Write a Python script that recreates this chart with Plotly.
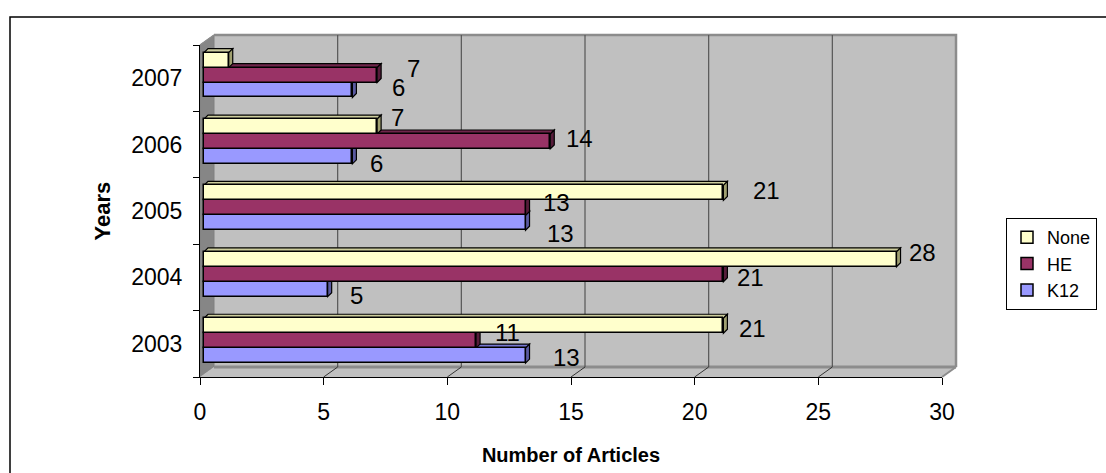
import plotly.graph_objects as go

# ---------------- data ----------------
years = ["2003", "2004", "2005", "2006", "2007"]
none_vals = [21, 28, 21, 7, 1]
he_vals = [11, 21, 13, 14, 7]
k12_vals = [13, 5, 13, 6, 6]
none_label_shown = [True, True, True, True, False]
x_ticks = [0, 5, 10, 15, 20, 25, 30]

# ---------------- geometry / style ----------------
FIG_W, FIG_H = 1106, 473
L, R, T, B = 200, 942, 45, 377
PW, PH = R - L, B - T
X_MAX = 30
N = len(years)
PX_PER_X = PW / X_MAX
PX_PER_Y = PH / N
WALL_DX, WALL_DY = 14, 10          # depth of walls (px)
BAR_D = 4                          # depth of bars (px)
BASE = BAR_D / PX_PER_X
BDX = BAR_D / PX_PER_X
BDY = BAR_D / PX_PER_Y
BAR_W = 0.225
FONT = "Arial, Liberation Sans, sans-serif"

# (name, values, offset, front, top, side)
series = [
    ("K12", k12_vals, -0.29, "#9999FF", "#7676D0", "#5A5AA0"),
    ("HE", he_vals, -0.065, "#993366", "#70254B", "#561C3A"),
    ("None", none_vals, 0.16, "#FFFFCC", "#CDCD9C", "#A0A070"),
]

# label offsets (px) relative to the bar end / bar centre: (dx, dy up)
label_shift = {
    "None": [(29.5, -2.3), (26.3, 7.3), (43.5, 2.9), (20.8, 9.5), (0, 0)],
    "HE": [(31, 8.6), (27.5, -2.8), (31.4, 5.8), (29.6, 3.4), (36.8, 7)],
    "K12": [(41.4, -1.5), (29.3, -5.9), (35.4, -10.3), (23.6, -6.7), (45.6, 2.9)],
}

idx = list(range(N))
fig = go.Figure()
shapes = []
annotations = []

dxp, dyp = WALL_DX / PW, WALL_DY / PH

# outer frame
shapes.append(dict(type="rect", xref="paper", yref="paper", layer="below",
                   x0=(10 - L) / PW, x1=(FIG_W + 20 - L) / PW,
                   y0=(B - (FIG_H + 20)) / PH, y1=(B - 17) / PH,
                   line=dict(color="black", width=1.5), fillcolor="white"))
# back wall
shapes.append(dict(type="rect", xref="paper", yref="paper", layer="below",
                   x0=dxp, x1=1 + dxp, y0=dyp, y1=1 + dyp,
                   line=dict(width=0), fillcolor="#C0C0C0"))
# side wall
shapes.append(dict(type="path", xref="paper", yref="paper", layer="below",
                   path=f"M 0,0 L {dxp},{dyp} L {dxp},{1 + dyp} L 0,1 Z",
                   line=dict(color="#808080", width=1), fillcolor="#868686"))
# floor
shapes.append(dict(type="path", xref="paper", yref="paper", layer="below",
                   path=f"M 0,0 L 1,0 L {1 + dxp},{dyp} L {dxp},{dyp} Z",
                   line=dict(width=0), fillcolor="#C0C0C0"))
shapes.append(dict(type="line", xref="paper", yref="paper", layer="below",
                   x0=dxp, x1=1 + dxp, y0=dyp, y1=dyp,
                   line=dict(color="#8C8C8C", width=3)))
shapes.append(dict(type="line", xref="paper", yref="paper", layer="below",
                   x0=1, x1=1 + dxp, y0=0, y1=dyp,
                   line=dict(color="#8C8C8C", width=2)))
# back wall top / right border
shapes.append(dict(type="path", xref="paper", yref="paper", layer="below",
                   path=f"M {dxp},{1 + dyp} L {1 + dxp},{1 + dyp} L {1 + dxp},{dyp}",
                   line=dict(color="#8C8C8C", width=2.5)))
shapes.append(dict(type="line", xref="paper", yref="paper", layer="below",
                   x0=0, x1=dxp, y0=1, y1=1 + dyp,
                   line=dict(color="#8C8C8C", width=1.5)))
# gridlines on the back wall and diagonal ticks on the floor
for v in x_ticks[1:-1]:
    xp = v / X_MAX
    shapes.append(dict(type="line", xref="paper", yref="paper", layer="below",
                       x0=xp + dxp, x1=xp + dxp, y0=dyp, y1=1 + dyp,
                       line=dict(color="#555555", width=1.2)))
    shapes.append(dict(type="line", xref="paper", yref="paper", layer="below",
                       x0=xp, x1=xp + dxp, y0=0, y1=dyp,
                       line=dict(color="#333333", width=1)))

# bars + 3D faces + labels
for name, vals, off, front, top_c, side_c in series:
    fig.add_trace(go.Bar(
        name=name, y=idx, x=vals, base=BASE, orientation="h",
        offset=off, width=BAR_W,
        marker=dict(color=front, line=dict(color="black", width=1.5)),
    ))
    for i, v in enumerate(vals):
        yb, yt = i + off, i + off + BAR_W
        x0, x1 = BASE, BASE + v
        shapes.append(dict(type="path", xref="x", yref="y", layer="below",
                           path=f"M {x0},{yt} L {x1},{yt} L {x1 + BDX},{yt + BDY} L {x0 + BDX},{yt + BDY} Z",
                           fillcolor=top_c, line=dict(color="black", width=1.2)))
        shapes.append(dict(type="path", xref="x", yref="y", layer="below",
                           path=f"M {x1},{yb} L {x1},{yt} L {x1 + BDX},{yt + BDY} L {x1 + BDX},{yb + BDY} Z",
                           fillcolor=side_c, line=dict(color="black", width=1.2)))
        if name == "None" and not none_label_shown[i]:
            continue
        sdx, sdy = label_shift[name][i]
        annotations.append(dict(
            x=x1, y=i + off + BAR_W / 2, xref="x", yref="y", text=str(v),
            showarrow=False, xanchor="center", yanchor="middle",
            xshift=sdx, yshift=sdy, font=dict(size=24, color="black", family=FONT)))

fig.update_layout(
    width=FIG_W, height=FIG_H,
    margin=dict(l=L, r=FIG_W - R, t=T, b=FIG_H - B, pad=0),
    paper_bgcolor="white", plot_bgcolor="rgba(0,0,0,0)",
    barmode="overlay", bargap=0,
    font=dict(family=FONT, color="black"),
    shapes=shapes, annotations=annotations,
    showlegend=True,
    legend=dict(xref="container", yref="container",
                x=1006 / FIG_W, y=(FIG_H - 218) / FIG_H, xanchor="left", yanchor="top",
                traceorder="reversed", bgcolor="white", bordercolor="black",
                borderwidth=1, font=dict(size=18, family=FONT), itemwidth=30),
    xaxis=dict(range=[0, X_MAX], tickvals=x_ticks, showgrid=False, zeroline=False,
               showline=True, linecolor="black", linewidth=1.2,
               ticks="outside", ticklen=7, tickcolor="black",
               tickfont=dict(size=23), ticklabelstandoff=7, automargin=False,
               title=dict(text="<b>Number of Articles</b>", font=dict(size=20), standoff=24)),
    yaxis=dict(range=[-0.5, N - 0.5], tickvals=idx, ticktext=years, showgrid=False,
               zeroline=False, showline=True, linecolor="black", linewidth=1.2,
               ticks="", tickfont=dict(size=23), ticklabelstandoff=12, automargin=False,
               minor=dict(tick0=-0.5, dtick=1, ticks="outside", ticklen=6,
                          tickcolor="black", showgrid=False),
               title=dict(text="<b>Years</b>", font=dict(size=22), standoff=14)),
)

fig.write_html("out.html", config={"displayModeBar": False},
               post_script="document.body.style.margin='0';")
